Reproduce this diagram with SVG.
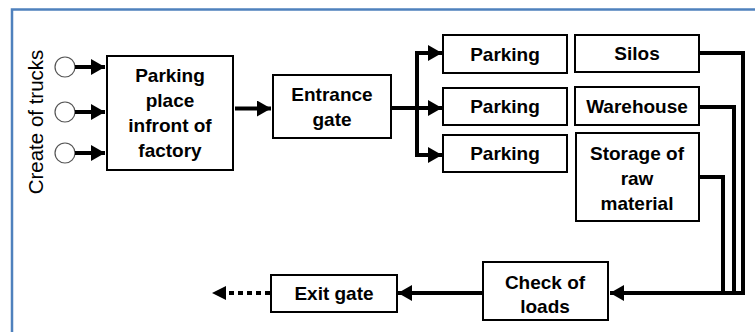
<svg xmlns="http://www.w3.org/2000/svg" width="755" height="332" viewBox="0 0 755 332">
<style>
.box{fill:#fff;stroke:#000;stroke-width:2}
.t{font-family:"Liberation Sans",Arial,sans-serif;font-weight:bold;font-size:19px;text-anchor:middle;fill:#000}
.c{fill:none;stroke:#000;stroke-width:4}
.src{fill:#fff;stroke:#555;stroke-width:1.2}
</style>
<defs>
<marker id="ah" markerUnits="userSpaceOnUse" markerWidth="14" markerHeight="16" refX="14" refY="8" orient="auto">
<path d="M0,0 L14,8 L0,16 Z" fill="#000"/>
</marker>
</defs>
<rect x="12" y="9.5" width="760" height="340" fill="#fff" stroke="#4F81BD" stroke-width="2.5"/>
<text x="0" y="0" transform="translate(43,122) rotate(-90)" font-family="'Liberation Sans',Arial,sans-serif" font-size="20.5" text-anchor="middle" fill="#000">Create of trucks</text>
<g id="src1"><circle class="src" cx="65" cy="67" r="10"/></g>
<g id="src2"><circle class="src" cx="65" cy="112" r="10"/></g>
<g id="src3"><circle class="src" cx="65" cy="153" r="10"/></g>
<g id="parking-place"><rect class="box" x="107" y="56" width="126" height="114"/>
<text class="t" x="170" y="82">Parking</text><text class="t" x="170" y="107">place</text><text class="t" x="170" y="132">infront of</text><text class="t" x="170" y="157">factory</text></g>
<g id="entrance"><rect class="box" x="273" y="75" width="118" height="63"/>
<text class="t" x="332" y="101">Entrance</text><text class="t" x="332" y="126">gate</text></g>
<g id="parking1"><rect class="box" x="443" y="35" width="124" height="38"/><text class="t" x="505" y="61">Parking</text></g>
<g id="parking2"><rect class="box" x="443" y="88" width="124" height="37"/><text class="t" x="505" y="113">Parking</text></g>
<g id="parking3"><rect class="box" x="443" y="135" width="124" height="37"/><text class="t" x="505" y="160">Parking</text></g>
<g id="silos"><rect class="box" x="575" y="35" width="124" height="37"/><text class="t" x="637" y="60">Silos</text></g>
<g id="warehouse"><rect class="box" x="575" y="87" width="124" height="38"/><text class="t" x="637" y="113">Warehouse</text></g>
<g id="storage"><rect class="box" x="576" y="133" width="123" height="88"/><text class="t" x="637" y="160">Storage of</text><text class="t" x="637" y="185">raw</text><text class="t" x="637" y="210">material</text></g>
<g id="check"><rect class="box" x="483" y="262" width="125" height="58"/><text class="t" x="545" y="289">Check of</text><text class="t" x="545" y="313">loads</text></g>
<g id="exit"><rect class="box" x="271" y="275" width="126" height="37"/><text class="t" x="334" y="300">Exit gate</text></g>
<g id="connectors">
<path class="c" d="M75,67 H105" marker-end="url(#ah)"/>
<path class="c" d="M75,112 H105" marker-end="url(#ah)"/>
<path class="c" d="M75,153 H105" marker-end="url(#ah)"/>
<path class="c" d="M235,108.5 H271" marker-end="url(#ah)"/>
<path class="c" d="M391,108 H417"/>
<path class="c" d="M417,51 V157"/>
<path class="c" d="M415,53 H442" marker-end="url(#ah)"/>
<path class="c" d="M417,108 H442" marker-end="url(#ah)"/>
<path class="c" d="M415,155 H442" marker-end="url(#ah)"/>
<path class="c" d="M699,53 H743 V295"/>
<path class="c" d="M699,107 H734 V295"/>
<path class="c" d="M699,177 H723 V295"/>
<path class="c" d="M745,293 H610" marker-end="url(#ah)"/>
<path class="c" d="M483,293 H398" marker-end="url(#ah)"/>
<path class="c" d="M270,293 H226" stroke-dasharray="5,4"/>
<path d="M226,286 L212,293 L226,300 Z" fill="#000"/>
</g>
</svg>
